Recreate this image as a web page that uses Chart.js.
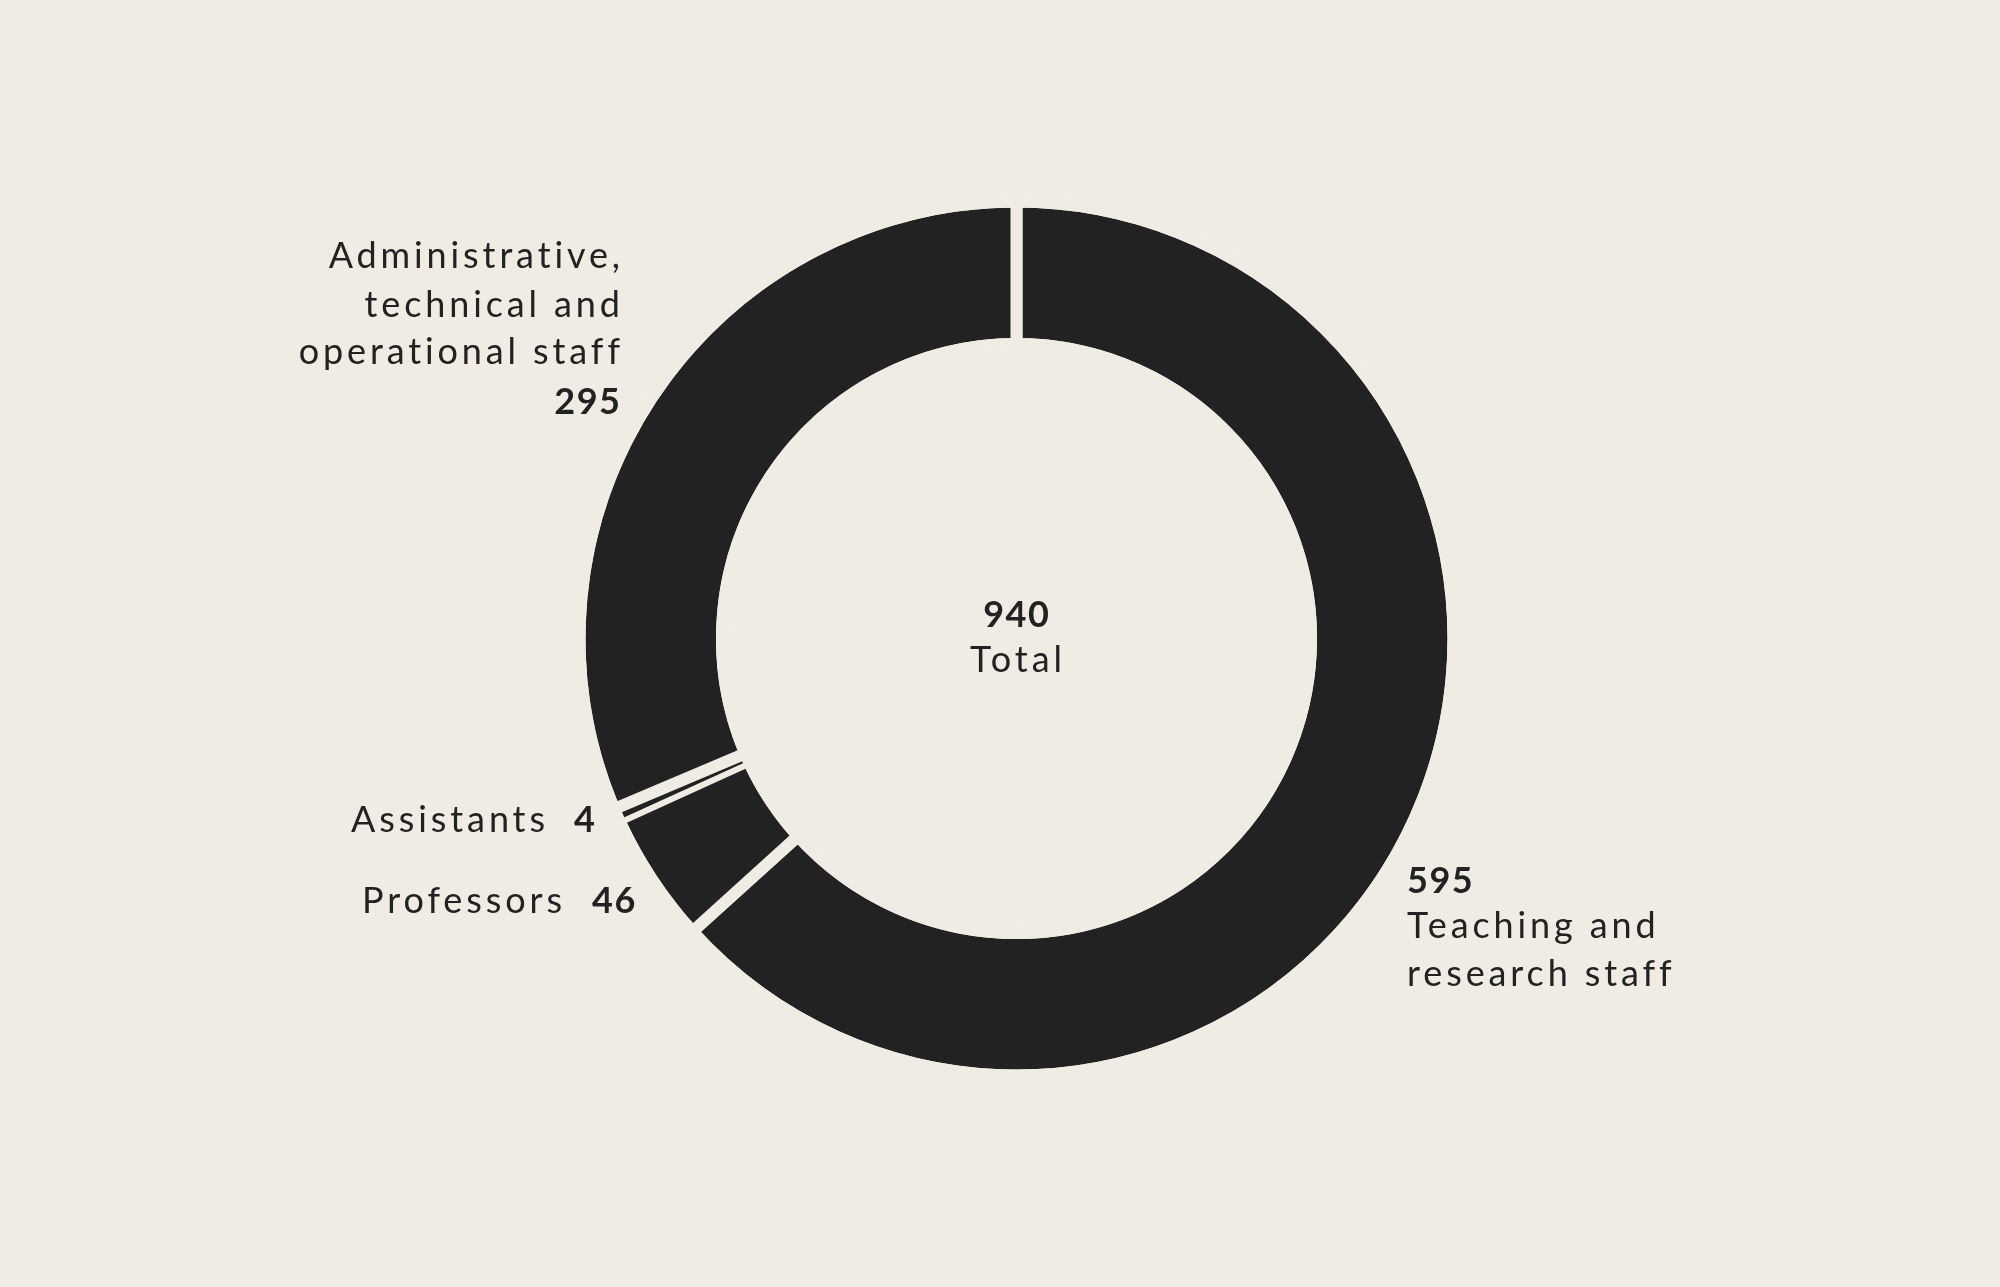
<!DOCTYPE html>
<html>
<head>
<meta charset="utf-8">
<script src="https://cdn.jsdelivr.net/npm/chart.js@4"></script>
<style>
  html, body { margin: 0; padding: 0; background: #F0ECE3; }
  #wrap { width: 2000px; height: 1287px; position: relative; }
</style>
</head>
<body>
<div id="wrap"><canvas id="c"></canvas></div>
<script>
// ---- data ----
const categories = ["Teaching and research staff", "Professors", "Assistants", "Administrative, technical and operational staff"];
const values = [595, 46, 4, 295];
const totalLabel = "Total";

const BG = "#F0ECE3";
const INK = "#222222";
const FONT = "Lato, 'Open Sans', sans-serif";
const GAP = 12;

const total = values.reduce((a, b) => a + b, 0);

// trims the outer and inner ring edges evenly (same amount the borders take off)
const edgeMask = {
  id: "edgeMask",
  afterDatasetsDraw(chart) {
    const arc = chart.getDatasetMeta(0).data[0];
    if (!arc) return;
    const ctx = chart.ctx;
    ctx.save();
    ctx.strokeStyle = BG;
    ctx.lineWidth = GAP;
    ctx.beginPath();
    ctx.arc(arc.x, arc.y, arc.outerRadius, 0, Math.PI * 2);
    ctx.stroke();
    ctx.beginPath();
    ctx.arc(arc.x, arc.y, arc.innerRadius, 0, Math.PI * 2);
    ctx.stroke();
    ctx.restore();
  }
};

const labelPlugin = {
  id: "labels",
  afterDraw(chart) {
    const ctx = chart.ctx;
    ctx.save();
    ctx.fillStyle = INK;
    ctx.textBaseline = "alphabetic";
    ctx.textAlign = "left";
    const reg = "400 36px " + FONT;
    const bold = "700 36px " + FONT;

    // fit tracking of the regular face to the reference's wide lettering
    ctx.font = reg;
    ctx.letterSpacing = "0px";
    const w0 = ctx.measureText("Administrative,").width;
    const lsReg = Math.max(0, (292 - w0) / 14);
    const lsBold = 1.5;

    function draw(text, x, y, font, align) {
      ctx.font = font;
      const ls = font === reg ? lsReg : lsBold;
      ctx.letterSpacing = ls + "px";
      const w = ctx.measureText(text).width - ls;
      let sx = x;
      if (align === "right") sx = x - w;
      else if (align === "center") sx = x - w / 2;
      ctx.fillText(text, sx, y);
    }

    // center
    draw(String(total), 1016, 627, bold, "center");
    draw(totalLabel, 1016, 672, reg, "center");

    // Administrative
    draw("Administrative,", 620, 268, reg, "right");
    draw("technical and", 620, 317, reg, "right");
    draw("operational staff", 620, 364, reg, "right");
    draw(String(values[3]), 620, 414, bold, "right");

    // Assistants
    draw(categories[2], 545, 832, reg, "right");
    draw(String(values[2]), 595, 832, bold, "right");

    // Professors
    draw(categories[1], 562, 913, reg, "right");
    draw(String(values[1]), 592, 913, bold, "left");

    // Teaching
    draw(String(values[0]), 1407, 893, bold, "left");
    draw("Teaching and", 1407, 938, reg, "left");
    draw("research staff", 1407, 986, reg, "left");
    ctx.restore();
  }
};

new Chart(document.getElementById("c"), {
  type: "doughnut",
  data: {
    labels: categories,
    datasets: [{
      data: values,
      backgroundColor: INK,
      borderColor: BG,
      borderWidth: (c) => (c.dataIndex === 2 ? 0 : GAP),
      hoverOffset: 0
    }]
  },
  options: {
    responsive: true,
    maintainAspectRatio: false,
    animation: false,
    radius: 437,
    cutout: "67.4%",
    rotation: 0,
    layout: { padding: { left: 33, right: 0, top: 0, bottom: 10 } },
    plugins: {
      legend: { display: false },
      tooltip: { enabled: false }
    }
  },
  plugins: [edgeMask, labelPlugin]
});
</script>
</body>
</html>
